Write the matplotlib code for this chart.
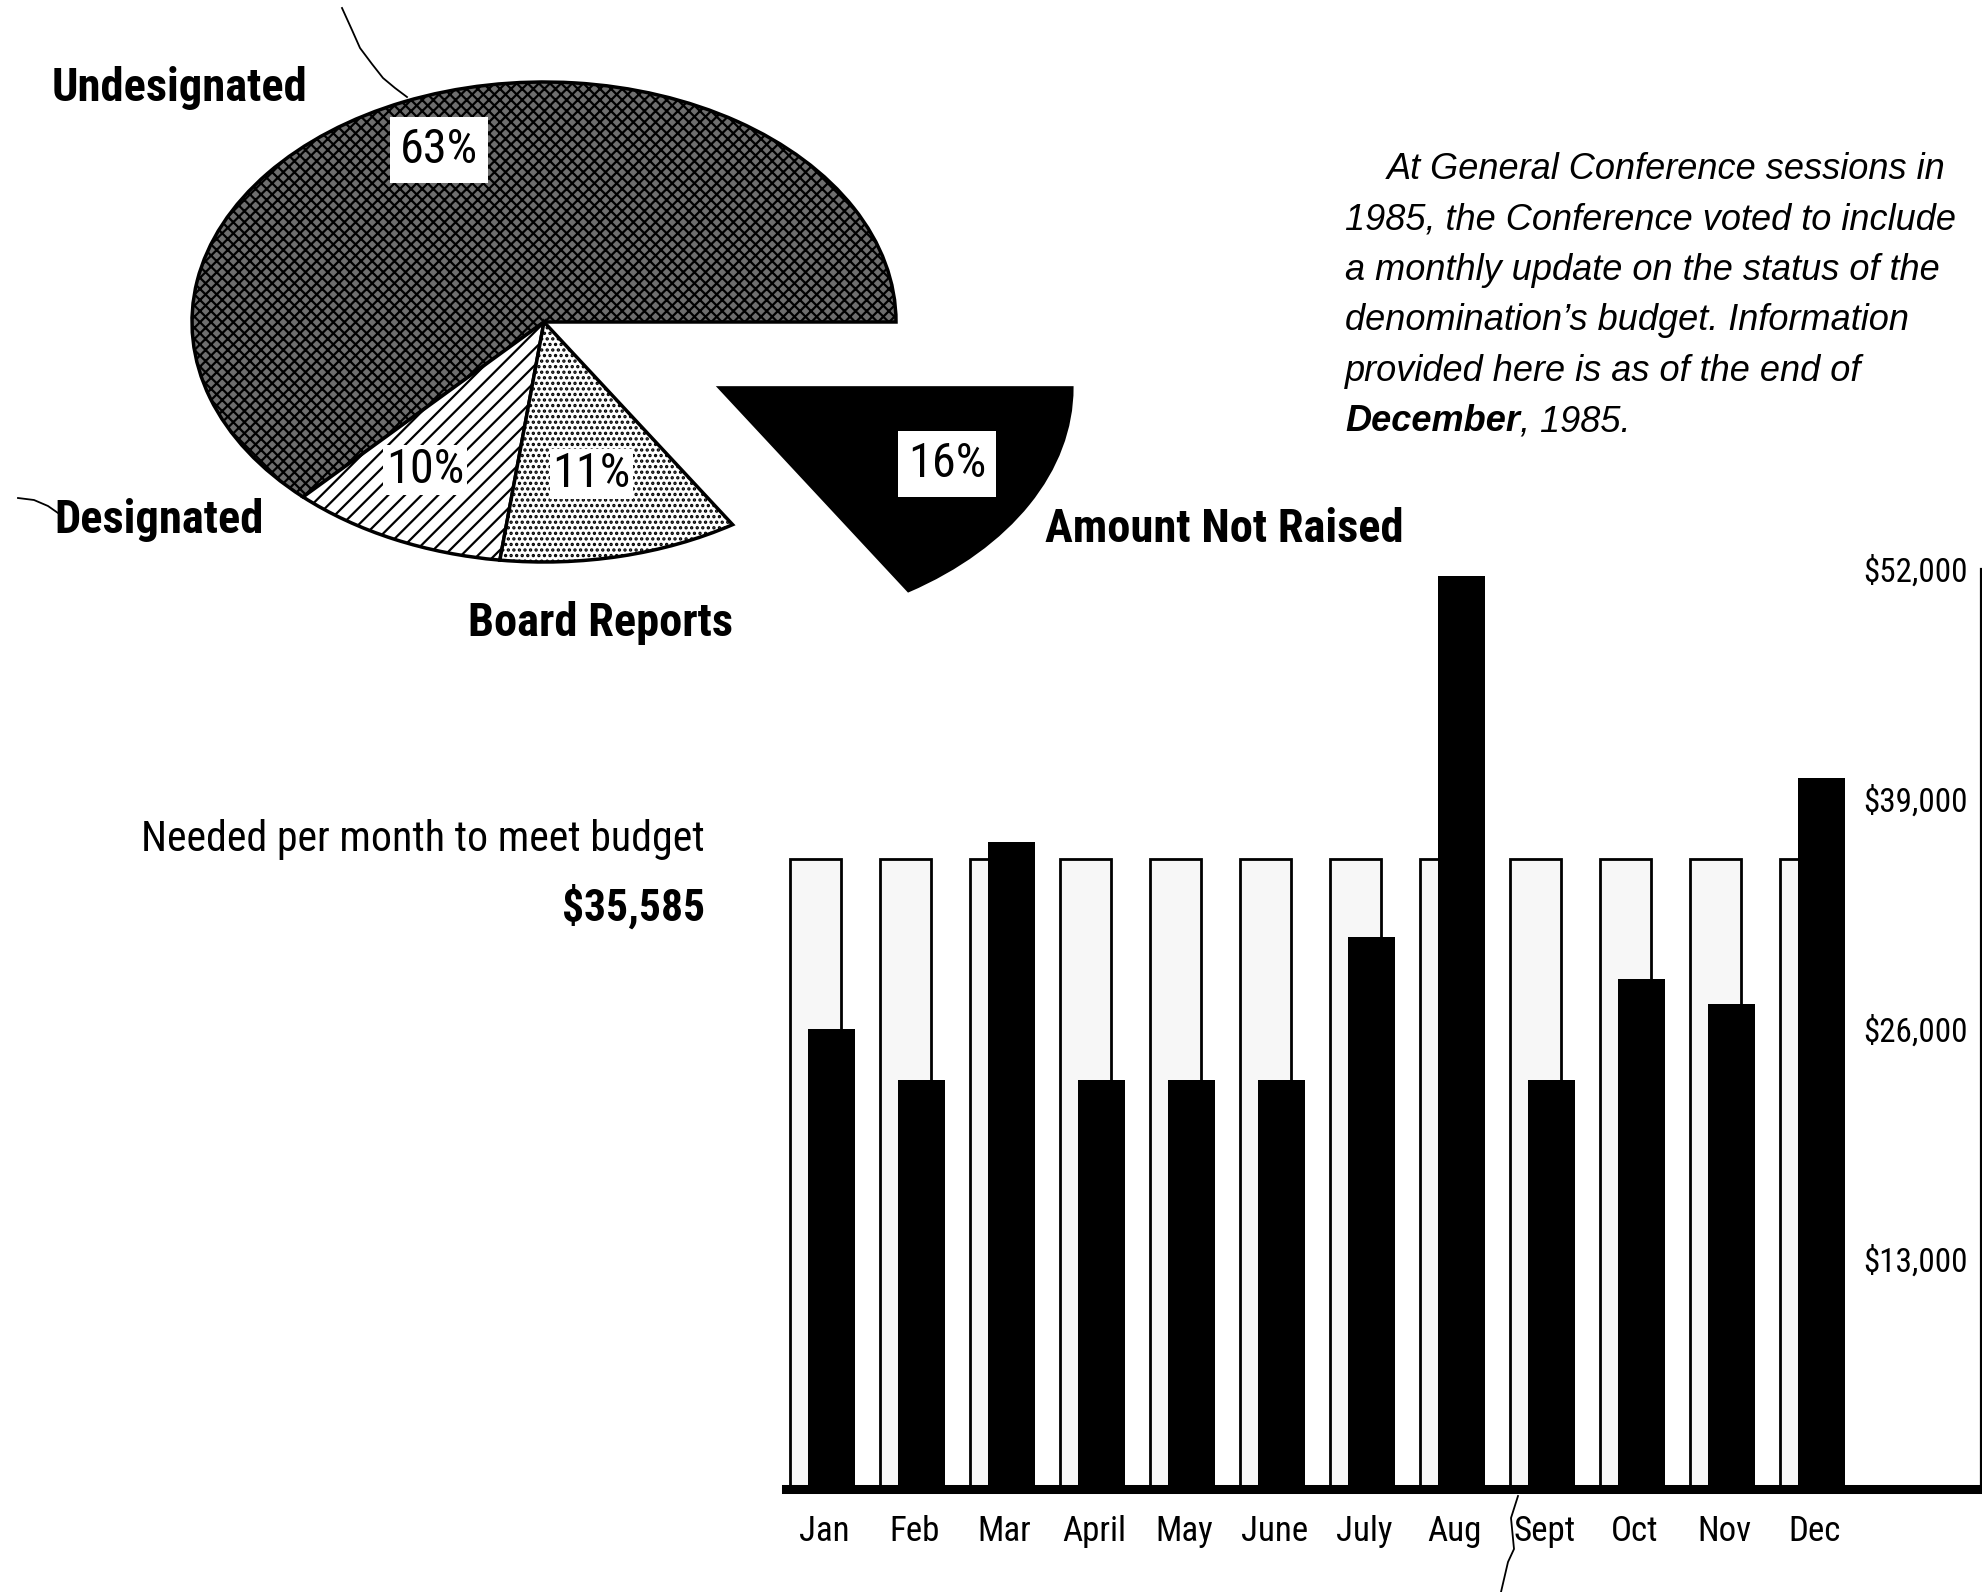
import numpy as np
import matplotlib
matplotlib.use('Agg')
import matplotlib.pyplot as plt
from matplotlib import font_manager as fm
from matplotlib.font_manager import FontProperties
from matplotlib.textpath import TextPath
from matplotlib.lines import Line2D

# pie data
pie_labels = ['Undesignated', 'Designated', 'Board Reports', 'Amount Not Raised']
pie_shares = [63, 10, 11, 16]
pie_pct = ['63%', '10%', '11%', '16%']

# monthly bars
months = ['Jan', 'Feb', 'Mar', 'April', 'May', 'June',
          'July', 'Aug', 'Sept', 'Oct', 'Nov', 'Dec']
needed = [35585, 35585, 35585, 35585, 35585, 35585,
          35585, 35585, 35585, 35585, 35585, 35585]
received = [26000, 23100, 36550, 23100, 23100, 23100,
            31200, 51600, 23100, 28800, 27400, 40200]
yticks = [13000, 26000, 39000, 52000]
ytick_labels = ['$13,000', '$26,000', '$39,000', '$52,000']

note_lines = ['At General Conference sessions in',
              '1985, the Conference voted to include',
              'a monthly update on the status of the',
              'denomination\u2019s budget. Information',
              'provided here is as of the end of']

# pick a condensed grotesque if one is there
names = {f.name for f in fm.fontManager.ttflist}
COND = 'Liberation Sans'
for cand in ['Liberation Sans Narrow', 'Roboto Condensed', 'Archivo Narrow']:
    if cand in names:
        COND = cand
        break
plt.rcParams['font.family'] = [COND, 'DejaVu Sans']
plt.rcParams['hatch.linewidth'] = 1.6


def fit(s, target_px, weight='normal'):
    # font size (pt) that gives the ink width seen in the scan
    tp = TextPath((0, 0), s, size=100, prop=FontProperties(family=COND, weight=weight))
    return 100 * target_px / (tp.get_extents().width * 100 / 72)


W, H = 1983, 1592
fig = plt.figure(figsize=(W / 100, H / 100), dpi=100)
fig.patch.set_facecolor('white')


def fx(px):
    return px / W


def fy(py):
    return 1 - py / H


name_size = np.mean([fit('Undesignated', 252, 'bold'), fit('Designated', 205, 'bold'),
                     fit('Board Reports', 260, 'bold'), fit('Amount Not Raised', 353, 'bold')])
pct_size = fit('63%', 73)
tick_size = fit('$52,000', 101)
month_size = fit('April', 61)
needed_size = fit('Needed per month to meet budget', 560)
amount_size = fit('$35,585', 139, 'bold')

# ---- pie (squashed into an ellipse) ----
cx, cy, rx, ry = 544, 322, 352, 240
x0, x1, y0, y1 = -1.2, 1.9, -1.3, 1.15
axp = fig.add_axes([fx(cx + x0 * rx), fy(cy - y0 * ry),
                    (x1 - x0) * rx / W, (y1 - y0) * ry / H])
wedges, _ = axp.pie(pie_shares, explode=[0, 0, 0, 0.57], startangle=0,
                    counterclock=True,
                    wedgeprops=dict(linewidth=2.5, edgecolor='black'))
styles = [('#6e6e6e', 'xxx'), ('white', '//'), ('white', '...'), ('black', None)]
for w, (fc, h) in zip(wedges, styles):
    w.set_facecolor(fc)
    if h:
        w.set_hatch(h)
axp.set_aspect('auto')
axp.set_xlim(x0, x1)
axp.set_ylim(y0, y1)
axp.axis('off')

pct_pos = [(-0.298, 0.717), (-0.338, -0.617), (0.134, -0.633), (1.145, -0.592)]
pct_pad = [0.2, 0.05, 0.05, 0.2]
for (px, py), s, pd in zip(pct_pos, pie_pct, pct_pad):
    axp.text(px, py, s, fontsize=pct_size, ha='center', va='center',
             bbox=dict(boxstyle='square,pad=%s' % pd, fc='white', ec='none'))

name_pos = [(180, 88), (159, 520), (601, 623), (1224, 529)]
for (px, py), s in zip(name_pos, pie_labels):
    fig.text(fx(px), fy(py), s, fontsize=name_size, fontweight='bold',
             ha='center', va='center')

# leader strokes
for pts in ([(342, 8), (352, 30), (360, 48), (372, 64), (383, 78), (395, 88), (407, 97)],
            [(18, 498), (34, 500), (48, 506), (58, 513)],
            [(1518, 1496), (1511, 1518), (1514, 1549), (1508, 1562), (1501, 1592)]):
    xs = [fx(p[0]) for p in pts]
    ys = [fy(p[1]) for p in pts]
    fig.add_artist(Line2D(xs, ys, color='black', lw=1.3))

# ---- note text ----
base_y = [179, 229, 280, 330, 381]
for i, (s, by) in enumerate(zip(note_lines, base_y)):
    fig.text(fx(1387 if i == 0 else 1345), fy(by), s, fontsize=26,
             family='Liberation Sans', style='italic', va='baseline')
t_dec = fig.text(fx(1345), fy(431), 'December', fontsize=26,
                 family='Liberation Sans', style='italic', fontweight='bold',
                 va='baseline')
axp.annotate(', 1985.', xy=(1, 0), xycoords=t_dec, fontsize=26,
             family='Liberation Sans', style='italic', ha='left', va='bottom',
             annotation_clip=False)

# ---- needed per month ----
fig.text(fx(705), fy(840), 'Needed per month to meet budget', fontsize=needed_size,
         ha='right', va='center')
fig.text(fx(705), fy(907), '$35,585', fontsize=amount_size, fontweight='bold',
         ha='right', va='center')

# ---- bar chart ----
axb = fig.add_axes([fx(786), fy(1489), 1195 / W, 920 / H])
axb.set_facecolor('none')
x = np.arange(len(months))
axb.bar(x - 0.1, needed, width=0.57, color='#f7f7f7', edgecolor='black', linewidth=2)
axb.bar(x + 0.08, received, width=0.52, color='black')
axb.set_xlim(-0.43, 12.85)
axb.set_ylim(0, 52000)
for s in ('top', 'left'):
    axb.spines[s].set_visible(False)
axb.spines['right'].set_linewidth(1.6)
axb.spines['bottom'].set_linewidth(6.5)
axb.yaxis.tick_right()
axb.set_yticks(yticks, ytick_labels)
axb.tick_params(axis='y', length=0, pad=-9.5, labelsize=tick_size)
for lab in axb.get_yticklabels():
    lab.set_horizontalalignment('right')
axb.set_xticks(x, months)
axb.tick_params(axis='x', length=0, pad=19, labelsize=month_size)

fig.savefig('out.png', dpi=100)
